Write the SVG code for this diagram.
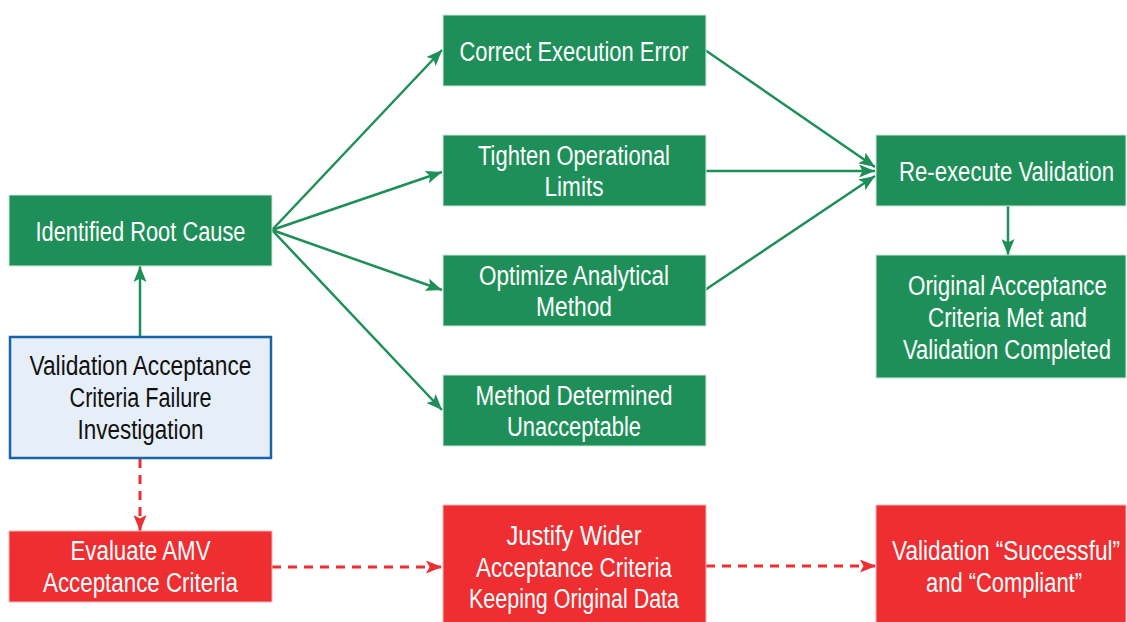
<svg xmlns="http://www.w3.org/2000/svg" width="1127" height="622" viewBox="0 0 1127 622">
<style>
.g{fill:#1e8f58;stroke:#cfe8da;stroke-width:1}
.r{fill:#ee2e31;stroke:#f7b5b5;stroke-width:1}
.b{fill:#e6eef7;stroke:#1764a8;stroke-width:2.5}
text{font-family:"Liberation Sans Narrow","Liberation Sans",Arial,sans-serif;font-size:27px;text-anchor:middle}
.w{fill:#ffffff}
.k{fill:#111111}
.cg{stroke:#1e8f58;stroke-width:2.5;fill:none}
.cr{stroke:#ee2e31;stroke-width:3;fill:none;stroke-dasharray:9 7}
</style>
<defs>
<marker id="ag" viewBox="0 0 16 13" refX="16" refY="6.5" markerWidth="16" markerHeight="13" markerUnits="userSpaceOnUse" orient="auto">
<path d="M0,0 L16,6.5 L0,13 L3.5,6.5 Z" fill="#1e8f58"/>
</marker>
<marker id="ar" viewBox="0 0 16 13" refX="16" refY="6.5" markerWidth="16" markerHeight="13" markerUnits="userSpaceOnUse" orient="auto">
<path d="M0,0 L16,6.5 L0,13 L3.5,6.5 Z" fill="#ee2e31"/>
</marker>
</defs>
<rect width="1127" height="622" fill="#ffffff"/>
<g id="connectors">
<line class="cg" x1="140" y1="336" x2="140" y2="266" marker-end="url(#ag)"/>
<line class="cg" x1="272" y1="230" x2="442" y2="50" marker-end="url(#ag)"/>
<line class="cg" x1="272" y1="230" x2="442" y2="172" marker-end="url(#ag)"/>
<line class="cg" x1="272" y1="230" x2="442" y2="290" marker-end="url(#ag)"/>
<line class="cg" x1="272" y1="230" x2="442" y2="410" marker-end="url(#ag)"/>
<line class="cg" x1="705" y1="50" x2="875" y2="167" marker-end="url(#ag)"/>
<line class="cg" x1="705" y1="171" x2="875" y2="171" marker-end="url(#ag)"/>
<line class="cg" x1="705" y1="290" x2="875" y2="176" marker-end="url(#ag)"/>
<line class="cg" x1="1008" y1="206" x2="1008" y2="255" marker-end="url(#ag)"/>
<line class="cr" x1="140" y1="459" x2="140" y2="531" marker-end="url(#ar)"/>
<line class="cr" x1="272" y1="567" x2="442" y2="567" marker-end="url(#ar)"/>
<line class="cr" x1="706" y1="566" x2="876" y2="566" marker-end="url(#ar)"/>
</g>
<g id="root-cause">
<rect class="g" x="9" y="195" width="263" height="71"/>
<text class="w" x="140.5" y="241" textLength="210" lengthAdjust="spacingAndGlyphs">Identified Root Cause</text>
</g>
<g id="investigation">
<rect class="b" x="10" y="337" width="261" height="121"/>
<text class="k" x="140.5" y="375" textLength="222" lengthAdjust="spacingAndGlyphs">Validation Acceptance</text>
<text class="k" x="140.5" y="407" textLength="142" lengthAdjust="spacingAndGlyphs">Criteria Failure</text>
<text class="k" x="140.5" y="439" textLength="126" lengthAdjust="spacingAndGlyphs">Investigation</text>
</g>
<g id="evaluate">
<rect class="r" x="9" y="531" width="263" height="71"/>
<text class="w" x="140.5" y="560" textLength="140" lengthAdjust="spacingAndGlyphs">Evaluate AMV</text>
<text class="w" x="140.5" y="592" textLength="195" lengthAdjust="spacingAndGlyphs">Acceptance Criteria</text>
</g>
<g id="correct">
<rect class="g" x="443" y="15" width="263" height="71"/>
<text class="w" x="574" y="61" textLength="229" lengthAdjust="spacingAndGlyphs">Correct Execution Error</text>
</g>
<g id="tighten">
<rect class="g" x="443" y="135" width="263" height="71"/>
<text class="w" x="574" y="165" textLength="192" lengthAdjust="spacingAndGlyphs">Tighten Operational</text>
<text class="w" x="574" y="196" textLength="59" lengthAdjust="spacingAndGlyphs">Limits</text>
</g>
<g id="optimize">
<rect class="g" x="443" y="255" width="263" height="71"/>
<text class="w" x="574" y="285" textLength="190" lengthAdjust="spacingAndGlyphs">Optimize Analytical</text>
<text class="w" x="574" y="316" textLength="76" lengthAdjust="spacingAndGlyphs">Method</text>
</g>
<g id="unacceptable">
<rect class="g" x="443" y="375" width="263" height="71"/>
<text class="w" x="574" y="405" textLength="197" lengthAdjust="spacingAndGlyphs">Method Determined</text>
<text class="w" x="574" y="436" textLength="134" lengthAdjust="spacingAndGlyphs">Unacceptable</text>
</g>
<g id="justify">
<rect class="r" x="443" y="505" width="263" height="125"/>
<text class="w" x="574" y="545" textLength="135" lengthAdjust="spacingAndGlyphs">Justify Wider</text>
<text class="w" x="574" y="577" textLength="196" lengthAdjust="spacingAndGlyphs">Acceptance Criteria</text>
<text class="w" x="574" y="608" textLength="210" lengthAdjust="spacingAndGlyphs">Keeping Original Data</text>
</g>
<g id="reexecute">
<rect class="g" x="876" y="135" width="250" height="71"/>
<text class="w" x="1006.5" y="181" textLength="215" lengthAdjust="spacingAndGlyphs">Re-execute Validation</text>
</g>
<g id="original">
<rect class="g" x="876" y="255" width="250" height="123"/>
<text class="w" x="1007.5" y="295" textLength="199" lengthAdjust="spacingAndGlyphs">Original Acceptance</text>
<text class="w" x="1007.5" y="327" textLength="159" lengthAdjust="spacingAndGlyphs">Criteria Met and</text>
<text class="w" x="1007" y="359" textLength="208" lengthAdjust="spacingAndGlyphs">Validation Completed</text>
</g>
<g id="successful">
<rect class="r" x="876" y="505" width="250" height="125"/>
<text class="w" x="1006" y="560" textLength="228" lengthAdjust="spacingAndGlyphs">Validation “Successful”</text>
<text class="w" x="1004" y="592" textLength="156" lengthAdjust="spacingAndGlyphs">and “Compliant”</text>
</g>
</svg>
